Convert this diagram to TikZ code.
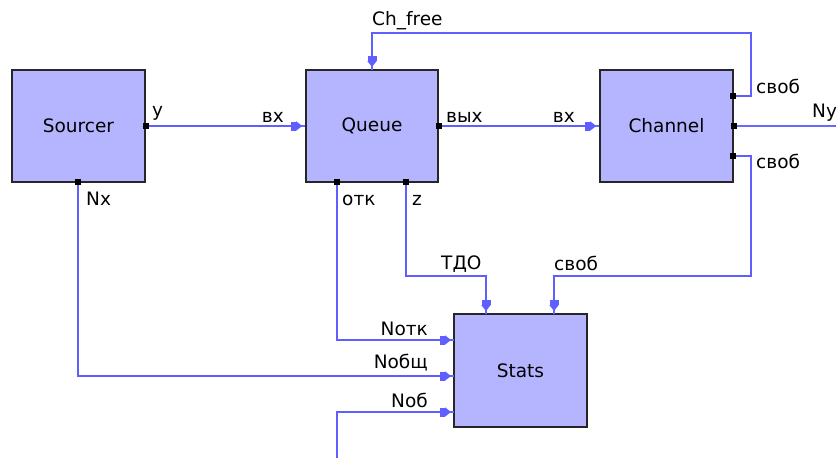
\documentclass[tikz,border=0pt]{standalone}
\usepackage{fontspec}
\setmainfont{DejaVu Sans}
\usetikzlibrary{arrows.meta}
\definecolor{boxfill}{RGB}{181,181,255}
\definecolor{wire}{RGB}{105,105,255}
\definecolor{tipcol}{RGB}{95,95,255}
\tikzset{
  block/.style={draw=black!85, line width=1.6pt, fill=boxfill, minimum width=133pt, minimum height=112pt, inner sep=0pt, font=\fontsize{18.5}{22}\selectfont},
  conn/.style={draw=wire, line width=1.8pt},
  inport/.style={postaction={draw=tipcol, line width=1.8pt, shorten >=3pt, -{Square[width=9pt,length=5pt,fill=tipcol] Triangle[width=9pt,length=6pt,fill=tipcol]}}},
  portdot/.style={fill=black, minimum size=5.5pt, inner sep=0pt},
  lbl/.style={inner sep=0pt, font=\fontsize{18.5}{22}\selectfont},
}
\begin{document}
\begin{tikzpicture}[x=1pt,y=-1pt]
\useasboundingbox (0,0) rectangle (836,458);
% blocks
\node[block] (src) at (78.5,126) {Sourcer};
\node[block, minimum width=132pt] (que) at (372,126) {Queue};
\node[block] (chan) at (666.5,126) {Channel};
\node[block, minimum height=113pt] (stats) at (520.5,370.5) {Stats};
% port coordinates
\coordinate (srcY) at (src.east);
\coordinate (srcNx) at (78,182);
\coordinate (queOut) at (que.east);
\coordinate (queOtk) at (337,182);
\coordinate (queZ) at (406,182);
\coordinate (chF1) at (733,96);
\coordinate (chNy) at (chan.east);
\coordinate (chF2) at (733,156);
\coordinate (nyEnd) at (836,126);
\coordinate (nobIn) at (337,458);
\coordinate (stTdo) at (486,314);
\coordinate (stSvob) at (554,314);
\coordinate (stNotk) at (454,340);
\coordinate (stNobsh) at (454,376);
\coordinate (stNob) at (454,412);
\coordinate (queTop) at (372,70);
% connectors
\draw[conn,inport] (srcY) -- (que.west);
\draw[conn,inport] (queOut) -- (chan.west);
\draw[conn,inport] (chF1) -- (751,96) -- (751,33) -- (372,33) -- (queTop);
\draw[conn] (chNy) -- (nyEnd);
\draw[conn,inport] (chF2) -- (751,156) -- (751,276) -- (554,276) -- (stSvob);
\draw[conn,inport] (queZ) -- (406,276) -- (486,276) -- (stTdo);
\draw[conn,inport] (queOtk) -- (337,340) -- (stNotk);
\draw[conn,inport] (srcNx) -- (78,376) -- (stNobsh);
\draw[conn,inport] (nobIn) -- (337,412) -- (stNob);
% port dots
\foreach \p in {srcY,srcNx,queOut,queOtk,queZ,chF1,chNy,chF2}
  \node[portdot] at (\p) {};
% labels
\node[lbl, anchor=base west] (lCh) at (372,25) {Ch\_free};
\node[lbl, anchor=base west] (lY) at (152,116) {y};
\node[lbl, anchor=base east] (lVx1) at (284,122) {вх};
\node[lbl, anchor=base west] (lVyx) at (446,122) {вых};
\node[lbl, anchor=base east] (lVx2) at (575,122) {вх};
\node[lbl, anchor=base west] (lSv1) at (756,93) {своб};
\node[lbl, anchor=base west] (lNy) at (812,117) {Ny};
\node[lbl, anchor=base west] (lSv2) at (756,168) {своб};
\node[lbl, anchor=base west] (lNx) at (86,205) {Nx};
\node[lbl, anchor=base west] (lOtk) at (342,205) {отк};
\node[lbl, anchor=base west] (lZ) at (412,205) {z};
\node[lbl, anchor=base west] (lTdo) at (441,269) {ТДО};
\node[lbl, anchor=base west] (lSv3) at (554,270) {своб};
\node[lbl, anchor=base east] (lNotk) at (428,335) {Nотк};
\node[lbl, anchor=base east] (lNobsh) at (428,368) {Nобщ};
\node[lbl, anchor=base east] (lNob) at (428,407) {Nоб};
\end{tikzpicture}
\end{document}
